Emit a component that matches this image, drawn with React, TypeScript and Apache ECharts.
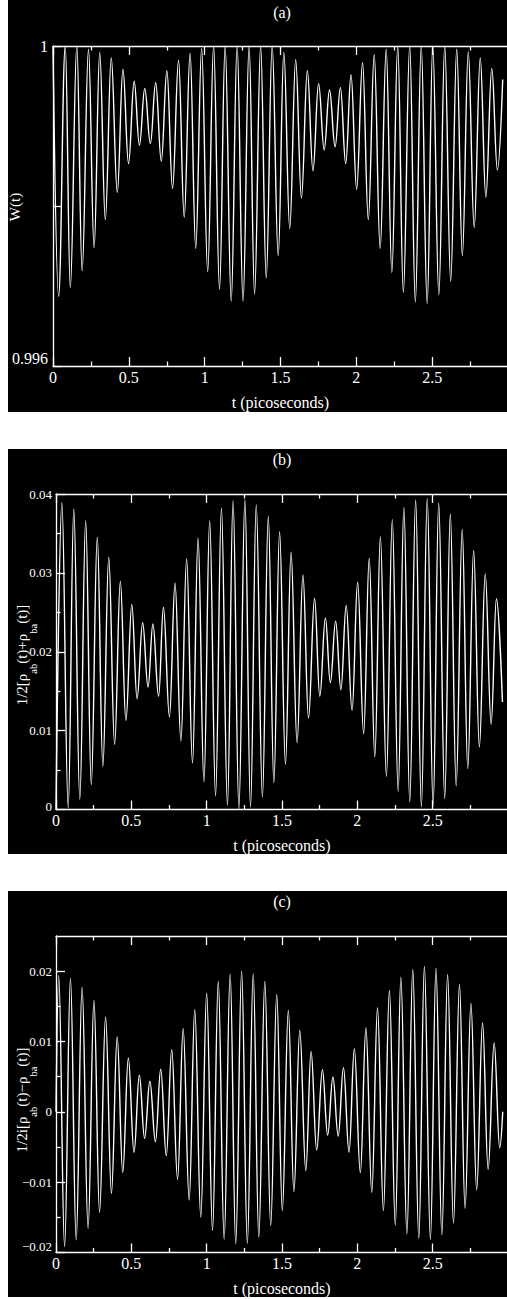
import React, { useEffect, useRef } from "react";
import * as echarts from "echarts";

// ---------- data (extrema of the oscillations) ----------
const tA = [0, 0.037, 0.081, 0.114, 0.157, 0.192, 0.234, 0.271, 0.308, 0.345, 0.384, 0.424, 0.461, 0.498, 0.535, 0.57, 0.605, 0.642, 0.677, 0.714, 0.751, 0.788, 0.828, 0.865, 0.904, 0.941, 0.98, 1.02, 1.059, 1.098, 1.135, 1.175, 1.214, 1.253, 1.293, 1.329, 1.369, 1.406, 1.445, 1.485, 1.522, 1.561, 1.6, 1.638, 1.677, 1.714, 1.751, 1.788, 1.823, 1.86, 1.895, 1.93, 1.965, 2.002, 2.041, 2.079, 2.118, 2.157, 2.197, 2.234, 2.273, 2.31, 2.352, 2.389, 2.428, 2.467, 2.504, 2.544, 2.583, 2.622, 2.662, 2.699, 2.738, 2.777, 2.817, 2.854, 2.893, 2.93, 2.965];
const wA = [1.0, 0.99687, 1.0, 0.99698, 1.0, 0.99719, 0.99996, 0.99748, 0.99992, 0.99783, 0.99985, 0.99817, 0.99971, 0.99853, 0.99956, 0.99876, 0.99947, 0.99878, 0.99954, 0.99856, 0.99969, 0.99822, 0.99982, 0.99786, 0.99991, 0.99747, 0.99997, 0.99718, 1.0, 0.99696, 1.0, 0.99681, 1.0, 0.99681, 1.0, 0.9969, 1.0, 0.9971, 1.0, 0.99738, 0.99992, 0.99772, 0.99983, 0.9981, 0.99969, 0.99844, 0.99953, 0.9987, 0.99945, 0.99874, 0.99948, 0.99853, 0.99964, 0.99821, 0.99979, 0.99783, 0.99989, 0.99747, 0.99996, 0.99717, 1.0, 0.99692, 1.0, 0.9968, 1.0, 0.99678, 1.0, 0.99689, 1.0, 0.99706, 0.99996, 0.99738, 0.99993, 0.99773, 0.99985, 0.99811, 0.99972, 0.99845, 0.99958];

const tB = [0, 0.039, 0.081, 0.118, 0.158, 0.197, 0.234, 0.274, 0.311, 0.35, 0.389, 0.427, 0.464, 0.503, 0.538, 0.575, 0.611, 0.643, 0.681, 0.713, 0.753, 0.79, 0.829, 0.867, 0.906, 0.943, 0.982, 1.02, 1.059, 1.098, 1.138, 1.175, 1.214, 1.254, 1.291, 1.329, 1.37, 1.409, 1.446, 1.484, 1.523, 1.56, 1.6, 1.639, 1.676, 1.716, 1.751, 1.788, 1.821, 1.856, 1.891, 1.926, 1.965, 2.002, 2.042, 2.079, 2.116, 2.153, 2.193, 2.232, 2.271, 2.309, 2.348, 2.387, 2.425, 2.464, 2.503, 2.54, 2.58, 2.617, 2.656, 2.696, 2.733, 2.772, 2.81, 2.849, 2.888, 2.923, 2.963];
const rhoSum = [0.0, 0.0389, 0.0002, 0.0381, 0.0013, 0.03662, 0.00316, 0.03451, 0.00549, 0.03198, 0.00827, 0.0289, 0.01131, 0.02599, 0.01405, 0.02367, 0.01553, 0.02354, 0.01435, 0.02565, 0.01173, 0.02869, 0.00869, 0.03177, 0.00591, 0.03443, 0.0035, 0.03662, 0.00173, 0.03823, 0.00055, 0.03916, 0.0001, 0.03928, 0.0003, 0.03861, 0.0016, 0.03717, 0.00342, 0.03523, 0.0057, 0.03262, 0.00848, 0.02975, 0.0116, 0.02679, 0.01435, 0.0243, 0.01608, 0.02388, 0.01519, 0.02587, 0.01257, 0.02882, 0.00962, 0.03186, 0.00667, 0.0346, 0.00422, 0.03675, 0.00232, 0.03831, 0.00097, 0.03924, 0.00034, 0.03945, 0.00042, 0.03886, 0.00139, 0.03747, 0.003, 0.03549, 0.00519, 0.03283, 0.00793, 0.02987, 0.0108, 0.02671, 0.01363];

const tC = [0, 0.018, 0.057, 0.096, 0.134, 0.173, 0.213, 0.252, 0.289, 0.329, 0.368, 0.406, 0.443, 0.48, 0.518, 0.553, 0.588, 0.623, 0.66, 0.695, 0.732, 0.768, 0.807, 0.844, 0.884, 0.921, 0.961, 1.0, 1.039, 1.077, 1.116, 1.156, 1.193, 1.232, 1.27, 1.309, 1.346, 1.386, 1.425, 1.465, 1.502, 1.542, 1.579, 1.618, 1.658, 1.693, 1.73, 1.768, 1.803, 1.838, 1.873, 1.908, 1.945, 1.98, 2.02, 2.057, 2.096, 2.134, 2.173, 2.213, 2.252, 2.289, 2.329, 2.368, 2.408, 2.445, 2.485, 2.522, 2.561, 2.599, 2.638, 2.678, 2.715, 2.754, 2.792, 2.831, 2.868, 2.908, 2.945, 2.965];
const rhoDiff = [0.0, 0.0194, -0.01915, 0.01901, -0.0182, 0.01773, -0.01655, 0.01584, -0.01428, 0.01348, -0.01158, 0.01064, -0.0086, 0.00766, -0.00577, 0.0052, -0.00378, 0.00435, -0.00426, 0.00605, -0.00624, 0.00884, -0.0096, 0.01182, -0.01253, 0.01452, -0.01499, 0.01688, -0.01688, 0.01853, -0.01811, 0.01962, -0.01877, 0.02, -0.01868, 0.01962, -0.01783, 0.01853, -0.01617, 0.01669, -0.01404, 0.01442, -0.01135, 0.01158, -0.00837, 0.0086, -0.00544, 0.006, -0.00331, 0.00496, -0.00345, 0.00629, -0.00577, 0.00898, -0.00865, 0.01191, -0.01144, 0.0148, -0.01404, 0.01726, -0.01608, 0.01915, -0.01735, 0.02024, -0.01797, 0.02066, -0.01811, 0.02043, -0.01749, 0.01953, -0.01584, 0.01811, -0.01371, 0.01546, -0.01111, 0.01262, -0.00818, 0.00979, -0.00511, 0.0];

const xTicks = [0, 0.5, 1, 1.5, 2, 2.5];
const panelTitles = ["(a)", "(b)", "(c)"];
const xTitle = "t (picoseconds)";
const yTitleA = "W(t)";
const yTitleB = [["1/2[\u03c1", 0], ["ab", 1], ["(t)+\u03c1", 0], ["ba", 1], ["(t)]", 0]];
const yTitleC = [["1/2i[\u03c1", 0], ["ab", 1], ["(t)\u2212\u03c1", 0], ["ba", 1], ["(t)]", 0]];

// ---------- layout ----------
const FONT = "Liberation Serif";
const WHITE = "#ffffff";
const panels = [
  { bgTop: 0, bgH: 412, left: 53, top: 46, height: 320 },
  { bgTop: 449, bgH: 405, left: 56, top: 494, height: 315.5 },
  { bgTop: 891, bgH: 406, left: 56, top: 936, height: 316.5 },
];
const RIGHT = 510.8;

function measure(text: string, size: number) {
  const c = document.createElement("canvas").getContext("2d");
  if (!c) return text.length * size * 0.5;
  c.font = `${size}px "Liberation Serif", serif`;
  return c.measureText(text).width;
}

function fmtNum(v: number) {
  if (Math.abs(v) < 1e-12) return "0";
  const s = Math.abs(v).toFixed(2);
  return (v < 0 ? "\u2212" : "") + s;
}

export default function App() {
  const ref = useRef<HTMLDivElement>(null);
  useEffect(() => {
    if (!ref.current) return;
    const chart = echarts.init(ref.current, undefined, { renderer: "svg" });

    const grids = panels.map((p) => ({
      left: p.left,
      top: p.top,
      width: RIGHT - p.left,
      height: p.height,
      containLabel: false,
    }));

    const lineStyle = { color: WHITE, width: 1.3 };
    const xAxes: any[] = [];
    panels.forEach((_, i) => {
      xAxes.push({
        type: "value",
        gridIndex: i,
        min: 0,
        max: 3,
        interval: 0.5,
        position: "bottom",
        axisLine: { show: true, onZero: false, lineStyle },
        axisTick: { show: true, inside: true, length: 9, lineStyle },
        minorTick: { show: true, splitNumber: 2, length: 4.5, lineStyle },
        splitLine: { show: false },
        axisLabel: {
          color: WHITE,
          fontFamily: FONT,
          fontSize: 16,
          margin: 3,
          formatter: (v: number) => (xTicks.some((t) => Math.abs(t - v) < 1e-9) ? String(v) : ""),
        },
        name: xTitle,
        nameLocation: "middle",
        nameGap: 28,
        nameTextStyle: { color: WHITE, fontFamily: FONT, fontSize: 16 },
      });
      xAxes.push({
        type: "value",
        gridIndex: i,
        min: 0,
        max: 3,
        interval: 0.5,
        position: "top",
        axisLine: { show: true, onZero: false, lineStyle },
        axisTick: { show: true, inside: true, length: 9, lineStyle },
        minorTick: { show: true, splitNumber: 2, length: 4.5, lineStyle },
        splitLine: { show: false },
        axisLabel: { show: false },
      });
    });

    const yBase = (i: number) => ({
      type: "value",
      gridIndex: i,
      position: "left",
      axisLine: { show: true, onZero: false, lineStyle },
      axisTick: { show: true, inside: true, length: 9, lineStyle },
      splitLine: { show: false },
    });

    const yAxes: any[] = [
      {
        ...yBase(0),
        min: 0.996,
        max: 1,
        interval: 0.002,
        minorTick: { show: false },
        axisLabel: {
          color: WHITE,
          fontFamily: FONT,
          fontSize: 16,
          margin: 5,
          formatter: (v: number) =>
            Math.abs(v - 1) < 1e-9 ? "1" : Math.abs(v - 0.996) < 1e-9 ? "{low|0.996}" : "",
          rich: { low: { color: WHITE, fontFamily: FONT, fontSize: 16, padding: [0, 0, 16, 0] } },
        },
      },
      {
        ...yBase(1),
        min: 0,
        max: 0.04,
        interval: 0.01,
        minorTick: { show: true, splitNumber: 2, length: 4.5, lineStyle },
        axisLabel: {
          color: WHITE,
          fontFamily: FONT,
          fontSize: 13,
          margin: 4,
          formatter: (v: number) => (Math.abs(v) < 1e-12 ? "{low|0}" : fmtNum(v)),
          rich: { low: { color: WHITE, fontFamily: FONT, fontSize: 13, padding: [0, 0, 6, 0] } },
        },
      },
      {
        ...yBase(2),
        min: -0.02,
        max: 0.025,
        interval: 0.01,
        axisTick: {
          show: true,
          inside: true,
          length: 9,
          lineStyle,
          customValues: [-0.02, -0.01, 0, 0.01, 0.02],
        },
        minorTick: { show: false },
        axisLabel: {
          color: WHITE,
          fontFamily: FONT,
          fontSize: 13,
          margin: 4,
          customValues: [-0.02, -0.01, 0, 0.01, 0.02],
          formatter: (v: number) =>
            v > 0.0201 ? "" : Math.abs(v + 0.02) < 1e-9 ? "{low|" + fmtNum(v) + "}" : fmtNum(v),
          rich: { low: { color: WHITE, fontFamily: FONT, fontSize: 13, padding: [0, 0, 12, 0] } },
        },
      },
      {
        type: "value",
        gridIndex: 2,
        position: "left",
        min: -0.02,
        max: 0.025,
        interval: 0.005,
        axisLine: { show: false },
        axisLabel: { show: false },
        splitLine: { show: false },
        axisTick: {
          show: true,
          inside: true,
          length: 4.5,
          lineStyle,
          customValues: [-0.015, -0.005, 0.005, 0.015],
        },
      },
    ];

    const mk = (ts: number[], vs: number[]) => ts.map((t, k) => [t, vs[k]]);
    const seriesCommon = {
      type: "line",
      showSymbol: false,
      symbol: "none",
      smooth: 0.4,
      smoothMonotone: "x",
      lineStyle: { color: WHITE, width: 1.4 },
      clip: true,
    };
    const series: any[] = [
      { ...seriesCommon, xAxisIndex: 0, yAxisIndex: 0, data: mk(tA, wA) },
      { ...seriesCommon, xAxisIndex: 2, yAxisIndex: 1, data: mk(tB, rhoSum) },
      { ...seriesCommon, xAxisIndex: 4, yAxisIndex: 2, data: mk(tC, rhoDiff) },
    ];

    const txt = (text: string, x: number, y: number, size: number, extra: any = {}) => ({
      type: "text",
      z: 10,
      x,
      y,
      ...extra,
      style: {
        text,
        fill: WHITE,
        fontFamily: FONT,
        fontSize: size,
        textAlign: extra.align || "center",
        textVerticalAlign: "middle",
        verticalAlign: "middle",
        align: extra.align || "center",
      },
    });

    const graphics: any[] = [];
    panels.forEach((p, i) => {
      graphics.push({
        type: "rect",
        z: -10,
        silent: true,
        shape: { x: 8, y: p.bgTop, width: 520, height: p.bgH },
        style: { fill: "#000000" },
      });
      graphics.push(txt(panelTitles[i], 282, p.bgTop + (i === 0 ? 12 : 10), 16));
    });
    graphics.push(txt(yTitleA, 15, 207, 15, { rotation: Math.PI / 2 }));

    const stacked = (pieces: any[], centerY: number, mainX: number, supX: number) => {
      const MAIN = 15;
      const SUP = 10.5;
      const widths = pieces.map(([s, sup]) => measure(s, sup ? SUP : MAIN));
      const total = widths.reduce((a, b) => a + b, 0);
      let y = centerY + total / 2;
      pieces.forEach(([s, sup], k) => {
        graphics.push(
          txt(s, sup ? supX : mainX, y, sup ? SUP : MAIN, { rotation: Math.PI / 2, align: "left" })
        );
        y -= widths[k];
      });
    };
    stacked(yTitleB, 655, 22, 33.5);
    stacked(yTitleC, 1100, 22, 33.5);

    chart.setOption({
      animation: false,
      backgroundColor: "#ffffff",
      grid: grids,
      xAxis: xAxes,
      yAxis: yAxes,
      series,
      graphic: graphics,
    });
    return () => chart.dispose();
  }, []);

  return (
    <div
      ref={ref}
      style={{ position: "fixed", left: 0, top: 0, width: 511, height: 1299 }}
    />
  );
}
